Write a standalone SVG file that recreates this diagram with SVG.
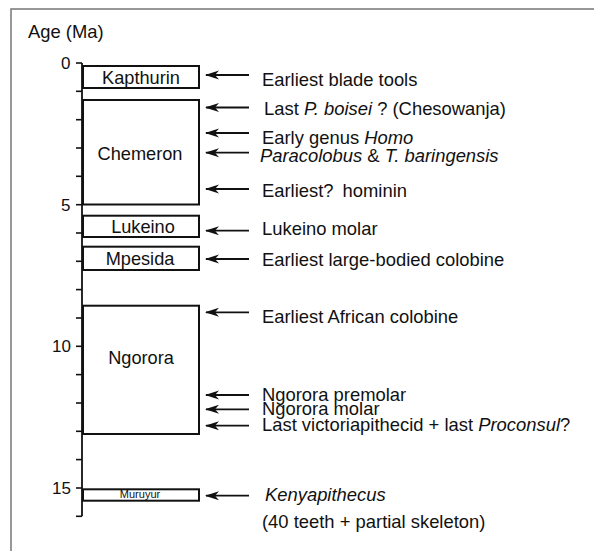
<svg xmlns="http://www.w3.org/2000/svg" width="594" height="551" viewBox="0 0 594 551">
<defs>
<style>
.t{font-family:"Liberation Sans",Arial,sans-serif;font-size:18.4px;fill:#111}
.ax{font-family:"Liberation Sans",Arial,sans-serif;font-size:17px;fill:#111;text-anchor:end}
.bl{font-family:"Liberation Sans",Arial,sans-serif;font-size:18.2px;fill:#111;text-anchor:middle}
.box{fill:#fff;stroke:#111;stroke-width:2}
.ln{stroke:#111;stroke-width:1.8;fill:none}
.tk{stroke:#111;stroke-width:1.6}
</style>
<marker id="ah" viewBox="0 0 14 10" refX="13" refY="5" markerWidth="14" markerHeight="10" markerUnits="userSpaceOnUse" orient="auto">
<path d="M14,5 L0,0.5 L4,5 L0,9.5 Z" fill="#111"/>
</marker>
</defs>
<rect width="594" height="551" fill="#fff"/>
<g id="frame" stroke="#777" stroke-width="1.5" fill="none">
<path d="M11,551 V9 H594"/>
</g>
<text class="t" x="28" y="38">Age (Ma)</text>
<g id="axis">
<line class="ln" x1="82" y1="63" x2="82" y2="516.3"/>
<g class="tk">
<line x1="76" y1="63" x2="82" y2="63"/><line x1="76" y1="91.3" x2="82" y2="91.3"/><line x1="76" y1="119.7" x2="82" y2="119.7"/><line x1="76" y1="148" x2="82" y2="148"/><line x1="76" y1="176.3" x2="82" y2="176.3"/><line x1="76" y1="204.7" x2="82" y2="204.7"/><line x1="76" y1="233" x2="82" y2="233"/><line x1="76" y1="261.3" x2="82" y2="261.3"/><line x1="76" y1="289.6" x2="82" y2="289.6"/><line x1="76" y1="318" x2="82" y2="318"/><line x1="76" y1="346.3" x2="82" y2="346.3"/><line x1="76" y1="374.6" x2="82" y2="374.6"/><line x1="76" y1="403" x2="82" y2="403"/><line x1="76" y1="431.3" x2="82" y2="431.3"/><line x1="76" y1="459.6" x2="82" y2="459.6"/><line x1="76" y1="488" x2="82" y2="488"/><line x1="76" y1="516.3" x2="82" y2="516.3"/>
</g>
<text class="ax" x="70.5" y="69">0</text>
<text class="ax" x="70.5" y="211">5</text>
<text class="ax" x="71" y="352">10</text>
<text class="ax" x="71" y="494">15</text>
</g>
<g id="kapthurin"><rect class="box" x="83" y="66" width="116" height="22"/><text class="bl" x="141" y="83.5">Kapthurin</text></g>
<g id="chemeron"><rect class="box" x="83" y="100" width="116" height="104.5"/><text class="bl" x="140" y="160">Chemeron</text></g>
<g id="lukeino"><rect class="box" x="83" y="215.7" width="116" height="21.3"/><text class="bl" x="143" y="233">Lukeino</text></g>
<g id="mpesida"><rect class="box" x="83" y="246.7" width="116" height="23.3"/><text class="bl" x="140" y="265">Mpesida</text></g>
<g id="ngorora"><rect class="box" x="83" y="305.7" width="116" height="128.3"/><text class="bl" x="141" y="364">Ngorora</text></g>
<g id="muruyur"><rect class="box" x="83" y="489.3" width="116" height="11.4"/><text class="bl" x="140" y="498" style="font-size:11px">Muruyur</text></g>
<g id="connectors" class="ln">
<line x1="249" y1="75" x2="206" y2="75" marker-end="url(#ah)"/>
<line x1="249" y1="107.5" x2="206" y2="107.5" marker-end="url(#ah)"/>
<line x1="249" y1="133" x2="206" y2="133" marker-end="url(#ah)"/>
<line x1="249" y1="152.7" x2="206" y2="152.7" marker-end="url(#ah)"/>
<line x1="249" y1="189" x2="206" y2="189" marker-end="url(#ah)"/>
<line x1="249" y1="230.7" x2="206" y2="230.7" marker-end="url(#ah)"/>
<line x1="249" y1="259" x2="206" y2="259" marker-end="url(#ah)"/>
<line x1="249" y1="312.3" x2="206" y2="312.3" marker-end="url(#ah)"/>
<line x1="249" y1="395" x2="206" y2="395" marker-end="url(#ah)"/>
<line x1="249" y1="409.3" x2="206" y2="409.3" marker-end="url(#ah)"/>
<line x1="249" y1="425.7" x2="206" y2="425.7" marker-end="url(#ah)"/>
<line x1="249" y1="495.7" x2="206" y2="495.7" marker-end="url(#ah)"/>
</g>
<g id="labels">
<text class="t" x="262" y="86">Earliest blade tools</text>
<text class="t" x="264" y="114.5">Last <tspan font-style="italic">P. boisei</tspan> ? (Chesowanja)</text>
<text class="t" x="262" y="143.5">Early genus <tspan font-style="italic">Homo</tspan></text>
<text class="t" x="260" y="161.5"><tspan font-style="italic">Paracolobus</tspan> &amp; <tspan font-style="italic">T. baringensis</tspan></text>
<text class="t" x="262" y="197">Earliest?<tspan dx="9">hominin</tspan></text>
<text class="t" x="262" y="235">Lukeino molar</text>
<text class="t" x="262" y="266">Earliest large-bodied colobine</text>
<text class="t" x="262" y="323">Earliest African colobine</text>
<text class="t" x="262" y="400.5">Ngorora premolar</text>
<text class="t" x="262" y="414.5">Ngorora molar</text>
<text class="t" x="262" y="431">Last victoriapithecid + last <tspan font-style="italic">Proconsul</tspan>?</text>
<text class="t" x="265" y="501" font-style="italic">Kenyapithecus</text>
<text class="t" x="262" y="528">(40 teeth + partial skeleton)</text>
</g>
</svg>
